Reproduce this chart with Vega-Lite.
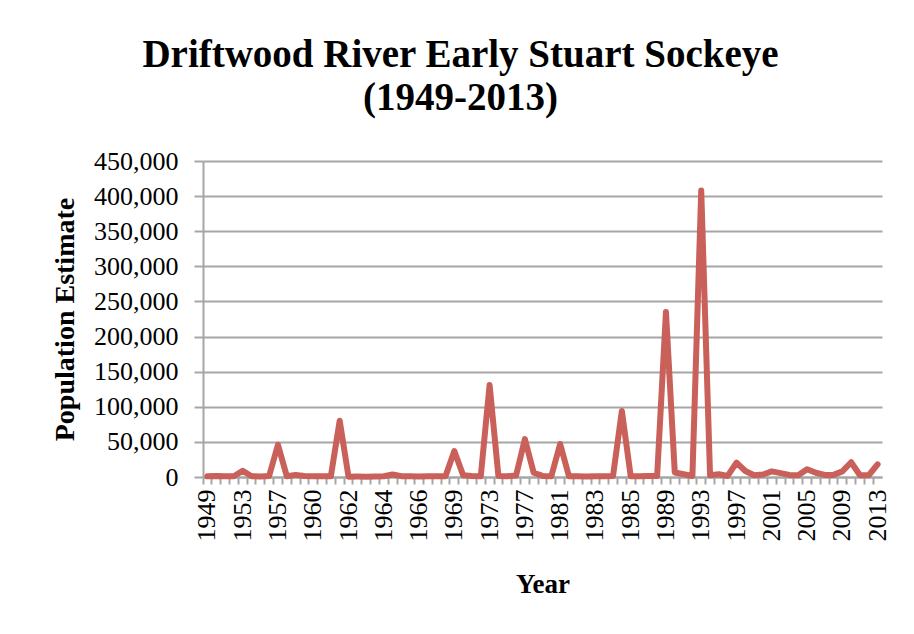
{
  "$schema": "https://vega.github.io/schema/vega-lite/v6.json",
  "width": 679,
  "height": 316,
  "autosize": {"type": "none"},
  "padding": {"left": 203, "top": 161, "right": 32, "bottom": 157},
  "background": "white",
  "title": {
    "text": ["Driftwood River Early Stuart Sockeye", "(1949-2013)"],
    "font": "Liberation Serif",
    "fontSize": 39,
    "fontWeight": "bold",
    "color": "black",
    "anchor": "middle",
    "frame": "group",
    "dx": -82,
    "lineHeight": 43,
    "offset": 30
  },
  "data": {
    "values": [
      {"year": "1949", "estimate": 1000},
      {"year": "1950", "estimate": 1500},
      {"year": "1951", "estimate": 1200},
      {"year": "1952", "estimate": 1000},
      {"year": "1953", "estimate": 9000},
      {"year": "1954", "estimate": 1000},
      {"year": "1955", "estimate": 800},
      {"year": "1956", "estimate": 1500},
      {"year": "1957", "estimate": 46000},
      {"year": "1958", "estimate": 1200},
      {"year": "1959", "estimate": 3000},
      {"year": "1959 (2)", "estimate": 1500},
      {"year": "1960", "estimate": 1000},
      {"year": "1960 (2)", "estimate": 1200},
      {"year": "1961", "estimate": 1000},
      {"year": "1961 (2)", "estimate": 80000},
      {"year": "1962", "estimate": 500},
      {"year": "1962 (2)", "estimate": 600},
      {"year": "1963", "estimate": 500},
      {"year": "1963 (2)", "estimate": 800},
      {"year": "1964", "estimate": 1000},
      {"year": "1964 (2)", "estimate": 3500},
      {"year": "1965", "estimate": 1200},
      {"year": "1965 (2)", "estimate": 1000},
      {"year": "1966", "estimate": 800},
      {"year": "1966 (2)", "estimate": 1000},
      {"year": "1967", "estimate": 1200},
      {"year": "1968", "estimate": 1000},
      {"year": "1969", "estimate": 37000},
      {"year": "1970", "estimate": 2500},
      {"year": "1971", "estimate": 1500},
      {"year": "1972", "estimate": 1000},
      {"year": "1973", "estimate": 131000},
      {"year": "1974", "estimate": 1500},
      {"year": "1975", "estimate": 1000},
      {"year": "1976", "estimate": 2000},
      {"year": "1977", "estimate": 54000},
      {"year": "1978", "estimate": 6000},
      {"year": "1979", "estimate": 1500},
      {"year": "1980", "estimate": 1000},
      {"year": "1981", "estimate": 47000},
      {"year": "1981 (2)", "estimate": 1000},
      {"year": "1982", "estimate": 1000},
      {"year": "1982 (2)", "estimate": 800},
      {"year": "1983", "estimate": 1200},
      {"year": "1983 (2)", "estimate": 1000},
      {"year": "1984", "estimate": 1500},
      {"year": "1984 (2)", "estimate": 94000},
      {"year": "1985", "estimate": 1200},
      {"year": "1986", "estimate": 1000},
      {"year": "1987", "estimate": 1500},
      {"year": "1988", "estimate": 1500},
      {"year": "1989", "estimate": 235000},
      {"year": "1990", "estimate": 6500},
      {"year": "1991", "estimate": 4000},
      {"year": "1992", "estimate": 1500},
      {"year": "1993", "estimate": 408000},
      {"year": "1994", "estimate": 2500},
      {"year": "1995", "estimate": 4000},
      {"year": "1996", "estimate": 1500},
      {"year": "1997", "estimate": 20500},
      {"year": "1998", "estimate": 8500},
      {"year": "1999", "estimate": 2500},
      {"year": "2000", "estimate": 3500},
      {"year": "2001", "estimate": 8000},
      {"year": "2002", "estimate": 5500},
      {"year": "2003", "estimate": 3000},
      {"year": "2004", "estimate": 2500},
      {"year": "2005", "estimate": 11000},
      {"year": "2006", "estimate": 6000},
      {"year": "2007", "estimate": 3000},
      {"year": "2008", "estimate": 3000},
      {"year": "2009", "estimate": 8000},
      {"year": "2010", "estimate": 21000},
      {"year": "2011", "estimate": 2500},
      {"year": "2012", "estimate": 2500},
      {"year": "2013", "estimate": 18000}
    ]
  },
  "encoding": {
    "y": {
      "field": "estimate",
      "type": "quantitative",
      "scale": {"domain": [0, 450000], "nice": false},
      "axis": {
        "values": [0, 50000, 100000, 150000, 200000, 250000, 300000, 350000, 400000, 450000],
        "format": ",.0f",
        "labelFont": "Liberation Serif",
        "labelFontSize": 26,
        "labelColor": "black",
        "labelPadding": 16,
        "ticks": true,
        "tickSize": 9,
        "tickColor": "#a6a6a6",
        "tickWidth": 2,
        "domain": true,
        "domainColor": "#a6a6a6",
        "domainWidth": 2,
        "grid": true,
        "gridColor": "#a6a6a6",
        "gridWidth": 2,
        "title": "Population Estimate",
        "titleFont": "Liberation Serif",
        "titleFontSize": 28,
        "titleFontWeight": "bold",
        "titleColor": "black",
        "titlePadding": 14
      }
    }
  },
  "layer": [
    {
      "mark": {"type": "line", "strokeOpacity": 0},
      "encoding": {
        "x": {
          "field": "year",
          "type": "ordinal",
          "sort": null,
          "bandPosition": 0.5,
          "scale": {"type": "band", "paddingInner": 0, "paddingOuter": 0},
          "axis": {
            "orient": "bottom",
            "bandPosition": 0,
            "labels": false,
            "ticks": true,
            "tickSize": 7,
            "tickColor": "#a6a6a6",
            "tickWidth": 2,
            "domain": true,
            "domainColor": "#a6a6a6",
            "domainWidth": 2,
            "grid": false,
            "title": null
          }
        }
      }
    },
    {
      "mark": {"type": "line", "color": "#c9605a", "strokeWidth": 6, "strokeCap": "round", "strokeJoin": "round"},
      "encoding": {
        "x": {
          "field": "year",
          "type": "ordinal",
          "sort": null,
          "bandPosition": 0.5,
          "scale": {"type": "band", "paddingInner": 0, "paddingOuter": 0},
          "axis": {
            "orient": "bottom",
            "values": ["1949", "1953", "1957", "1960", "1962", "1964", "1966", "1969", "1973", "1977", "1981", "1983", "1985", "1989", "1993", "1997", "2001", "2005", "2009", "2013"],
            "ticks": false,
            "tickSize": 0,
            "domain": false,
            "grid": false,
            "labelAngle": -90,
            "labelAlign": "right",
            "labelBaseline": "middle",
            "labelFont": "Liberation Serif",
            "labelFontSize": 26,
            "labelColor": "black",
            "labelPadding": 12,
            "labelOverlap": false,
            "title": "Year",
            "titleFont": "Liberation Serif",
            "titleFontSize": 27,
            "titleFontWeight": "bold",
            "titleColor": "black",
            "titlePadding": 30
          }
        }
      }
    }
  ],
  "resolve": {"axis": {"x": "independent"}},
  "config": {"view": {"stroke": null}}
}
